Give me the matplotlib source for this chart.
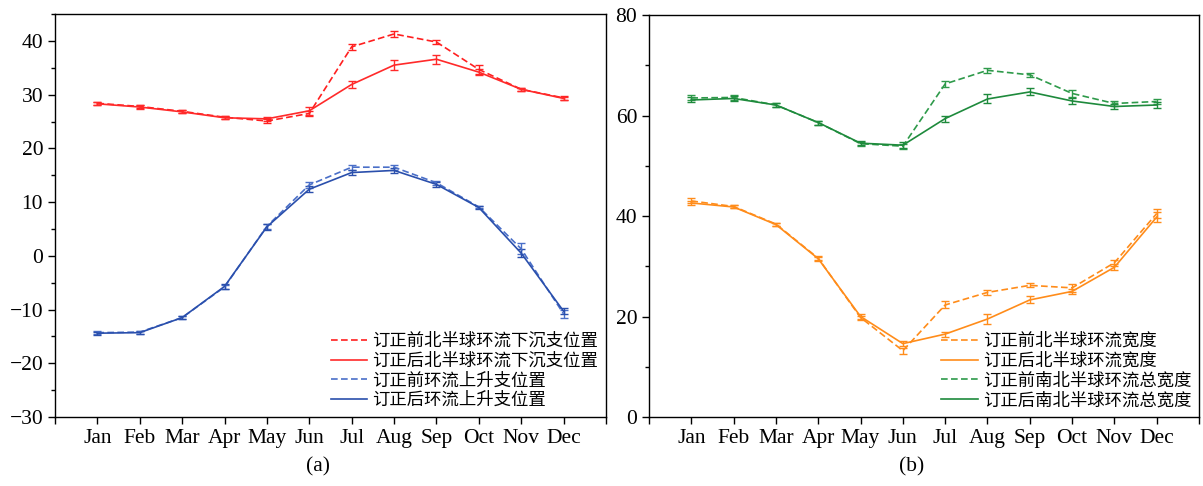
import numpy as np
import matplotlib
matplotlib.use('Agg')
import matplotlib.pyplot as plt
from matplotlib.ticker import MultipleLocator
from matplotlib.lines import Line2D

plt.rcParams['font.family'] = ['Liberation Serif', 'Noto Sans CJK SC']

months = ['Jan', 'Feb', 'Mar', 'Apr', 'May', 'Jun', 'Jul', 'Aug', 'Sep', 'Oct', 'Nov', 'Dec']

# (a) circulation branch positions
sink_before = [28.4, 27.8, 26.9, 25.8, 25.1, 26.5, 38.9, 41.3, 39.8, 34.7, 31.0, 29.4]
sink_before_err = [0.3, 0.3, 0.3, 0.3, 0.4, 0.5, 0.6, 0.5, 0.4, 0.8, 0.3, 0.3]
sink_after = [28.3, 27.7, 26.8, 25.7, 25.5, 27.0, 31.9, 35.5, 36.6, 34.2, 31.0, 29.3]
sink_after_err = [0.3, 0.3, 0.3, 0.3, 0.4, 0.7, 0.7, 1.0, 0.8, 0.6, 0.3, 0.3]
rise_before = [-14.3, -14.2, -11.5, -5.8, 5.5, 13.2, 16.5, 16.5, 13.6, 9.1, 1.3, -10.8]
rise_before_err = [0.3, 0.3, 0.3, 0.4, 0.5, 0.6, 0.5, 0.5, 0.4, 0.2, 1.0, 0.8]
rise_after = [-14.4, -14.3, -11.5, -5.7, 5.4, 12.4, 15.5, 15.9, 13.3, 9.0, 0.5, -10.3]
rise_after_err = [0.3, 0.3, 0.3, 0.4, 0.5, 0.6, 0.5, 0.4, 0.4, 0.2, 0.8, 0.6]

# (b) circulation widths
nh_before = [43.0, 41.9, 38.4, 31.6, 19.8, 13.2, 22.3, 24.8, 26.2, 25.7, 30.7, 40.5]
nh_before_err = [0.5, 0.3, 0.3, 0.4, 0.4, 0.6, 0.7, 0.5, 0.4, 0.8, 0.6, 0.8]
nh_after = [42.6, 41.8, 38.3, 31.5, 20.0, 14.6, 16.5, 19.5, 23.3, 25.0, 29.8, 39.8]
nh_after_err = [0.4, 0.3, 0.3, 0.4, 0.4, 0.5, 0.5, 1.0, 0.7, 0.5, 0.6, 1.0]
tot_before = [63.5, 63.6, 62.1, 58.6, 54.4, 53.9, 66.3, 69.0, 68.1, 64.4, 62.4, 62.8]
tot_before_err = [0.5, 0.5, 0.3, 0.4, 0.4, 0.5, 0.6, 0.5, 0.4, 0.7, 0.5, 0.5]
tot_after = [63.1, 63.4, 62.1, 58.6, 54.5, 54.1, 59.4, 63.3, 64.7, 62.9, 61.8, 62.1]
tot_after_err = [0.5, 0.5, 0.3, 0.4, 0.4, 0.6, 0.6, 0.9, 0.7, 0.6, 0.5, 0.5]

x = np.arange(1, 13)

fig = plt.figure(figsize=(12.03, 4.86), dpi=100)
ax1 = fig.add_axes([0.0457, 0.142, 0.4580, 0.829])
ax2 = fig.add_axes([0.5395, 0.142, 0.4572, 0.827])

def series(ax, y, err, color, ls, label):
    dash = (4, 2) if ls == '--' else (None, None)
    ax.errorbar(x, y, yerr=err, color=color, ls=ls, lw=1.2, capsize=3,
                elinewidth=1.0, capthick=1.0, ecolor=color, dashes=dash)
    return Line2D([], [], color=color, ls=ls, lw=1.2, dashes=dash, label=label)

def style(ax):
    ax.set_xlim(0, 13)
    ax.set_xticks(np.arange(0, 14))
    ax.set_xticklabels([''] + months + [''])
    ax.tick_params(axis='both', direction='out', labelsize=15.5, width=1.0, length=5)
    ax.tick_params(axis='y', which='minor', direction='out', length=3, width=1.0)
    for s in ax.spines.values():
        s.set_linewidth(1.0)

def legend(ax, handles):
    ax.legend(handles=handles, loc='lower right', frameon=False, handlelength=2.1,
              labelspacing=0.1, borderaxespad=0.05, handletextpad=0.3,
              prop={'family': ['Noto Sans CJK SC'], 'size': 12.5})

h = [series(ax1, sink_before, sink_before_err, '#ff1f1f', '--', '订正前北半球环流下沉支位置'),
     series(ax1, sink_after, sink_after_err, '#ff2a2a', '-', '订正后北半球环流下沉支位置'),
     series(ax1, rise_before, rise_before_err, '#4a6fc8', '--', '订正前环流上升支位置'),
     series(ax1, rise_after, rise_after_err, '#2a4fac', '-', '订正后环流上升支位置')]
style(ax1)
ax1.set_ylim(-30, 45)
ax1.yaxis.set_major_locator(MultipleLocator(10))
ax1.yaxis.set_minor_locator(MultipleLocator(5))
legend(ax1, h)

h = [series(ax2, nh_before, nh_before_err, '#ff8c1a', '--', '订正前北半球环流宽度'),
     series(ax2, nh_after, nh_after_err, '#ff8c1a', '-', '订正后北半球环流宽度'),
     series(ax2, tot_before, tot_before_err, '#2e9a4a', '--', '订正前南北半球环流总宽度'),
     series(ax2, tot_after, tot_after_err, '#1e8a3c', '-', '订正后南北半球环流总宽度')]
style(ax2)
ax2.set_ylim(0, 80)
ax2.yaxis.set_major_locator(MultipleLocator(20))
ax2.yaxis.set_minor_locator(MultipleLocator(10))
legend(ax2, h)

fig.text(318 / 1203, 1 - 467 / 486, '(a)', ha='center', va='center', fontsize=15.5)
fig.text(912 / 1203, 1 - 467 / 486, '(b)', ha='center', va='center', fontsize=15.5)

plt.savefig('out.png', dpi=100)
plt.close()
